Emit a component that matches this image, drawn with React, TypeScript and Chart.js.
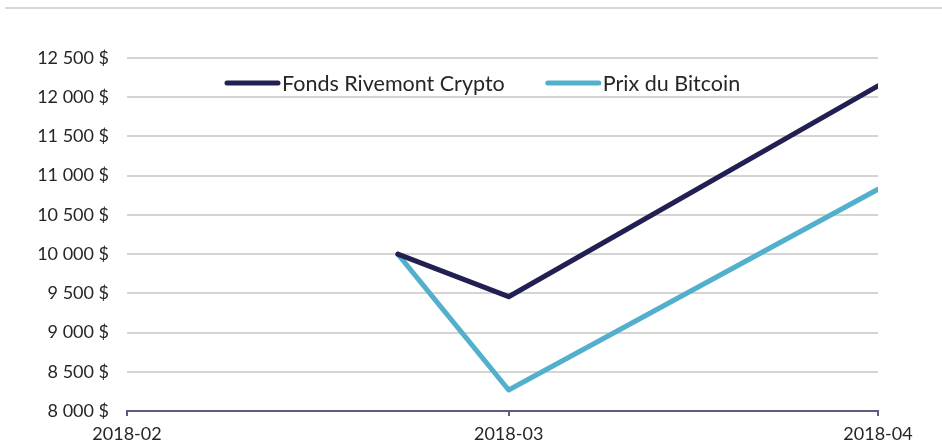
import React, { useEffect, useRef } from "react";
import { Chart, registerables } from "chart.js";

Chart.register(...registerables);

const tickDates = ["2018-02-28", "2018-03-31", "2018-04-30"];
const pointDates = ["2018-03-22", "2018-03-31", "2018-04-30"];
const fondsValues = [10000, 9457, 12145];
const bitcoinValues = [10000, 8268, 10826];
const seriesNames = ["Fonds Rivemont Crypto", "Prix du Bitcoin"];
const seriesColors = ["#221f52", "#52b0cc"];
const yMin = 8000;
const yMax = 12500;
const yStep = 500;

const FONT = "Lato, 'Noto Sans', sans-serif";
const DAY = 86400000;
const toDay = (d: string) => Date.parse(d + "T00:00:00Z") / DAY;
const dayLabel = (day: number) => {
  const dt = new Date(Math.round(day) * DAY);
  return `${dt.getUTCFullYear()}-${String(dt.getUTCMonth() + 1).padStart(2, "0")}`;
};

const fmt = (v: number) => {
  const s = Math.round(v).toString();
  return s.replace(/\B(?=(\d{3})+(?!\d))/g, " ") + " $";
};

const decorPlugin = {
  id: "decor",
  beforeDraw(chart: any) {
    const ctx = chart.ctx;
    ctx.save();
    ctx.fillStyle = "#d9d9d9";
    ctx.fillRect(5, 7, chart.width - 5, 2);
    ctx.restore();
  },
  afterDraw(chart: any) {
    const ctx = chart.ctx;
    const area = chart.chartArea;
    ctx.save();
    ctx.font = `21.5px ${FONT}`;
    ctx.textBaseline = "middle";
    ctx.textAlign = "left";
    const y = area.top + 25;
    let x = area.left + 97;
    seriesNames.forEach((name, i) => {
      ctx.strokeStyle = seriesColors[i];
      ctx.lineWidth = 5;
      ctx.lineCap = "round";
      ctx.beginPath();
      ctx.moveTo(x + 3, y);
      ctx.lineTo(x + 54, y);
      ctx.stroke();
      ctx.fillStyle = "#262626";
      ctx.fillText(name, x + 58, y + 1);
      x += 58 + ctx.measureText(name).width + 40;
    });
    ctx.restore();
  },
};

export default function App() {
  const ref = useRef<HTMLCanvasElement>(null);
  useEffect(() => {
    if (!ref.current) return;
    const mk = (vals: number[]) => pointDates.map((d, i) => ({ x: toDay(d), y: vals[i] }));
    const tickDays = tickDates.map(toDay);
    const ds = (i: number, vals: number[]) => ({
      label: seriesNames[i],
      data: mk(vals),
      borderColor: seriesColors[i],
      backgroundColor: seriesColors[i],
      borderWidth: 5,
      pointRadius: 0,
      tension: 0,
      borderJoinStyle: "round",
      borderCapStyle: "round",
    });
    const chart = new Chart(ref.current, {
      type: "line",
      data: { datasets: [ds(0, fondsValues), ds(1, bitcoinValues)] },
      plugins: [decorPlugin],
      options: {
        animation: false,
        responsive: false,
        devicePixelRatio: 1,
        layout: { padding: { top: 58, right: 64, left: 0, bottom: 0 } },
        plugins: {
          legend: { display: false },
          tooltip: { enabled: false },
        },
        scales: {
          x: {
            type: "linear",
            min: tickDays[0],
            max: tickDays[tickDays.length - 1],
            afterFit: (s: any) => {
              s.height = 32;
            },
            afterBuildTicks: (s: any) => {
              s.ticks = tickDays.map((v) => ({ value: v }));
            },
            ticks: {
              autoSkip: false,
              maxRotation: 0,
              padding: 7,
              color: "#262626",
              font: { family: FONT, size: 18 },
              callback: (v: any) => dayLabel(Number(v)),
            },
            grid: {
              drawOnChartArea: false,
              drawTicks: true,
              tickLength: 5,
              color: "#5d5b7e",
              lineWidth: 2,
            },
            border: { display: true, color: "#5d5b7e", width: 2 },
          },
          y: {
            min: yMin,
            max: yMax,
            afterFit: (s: any) => {
              s.width = 127;
            },
            ticks: {
              stepSize: yStep,
              padding: 18,
              color: "#262626",
              font: { family: FONT, size: 18 },
              callback: (v: any) => fmt(Number(v)),
            },
            grid: {
              drawTicks: false,
              color: "#d4d4d4",
              lineWidth: 2,
            },
            border: { display: false },
          },
        },
      },
    } as any);
    return () => chart.destroy();
  }, []);
  return (
    <div style={{ position: "absolute", left: 0, top: 0, width: 942, height: 443 }}>
      <canvas ref={ref} width={942} height={443} style={{ display: "block" }} />
    </div>
  );
}
